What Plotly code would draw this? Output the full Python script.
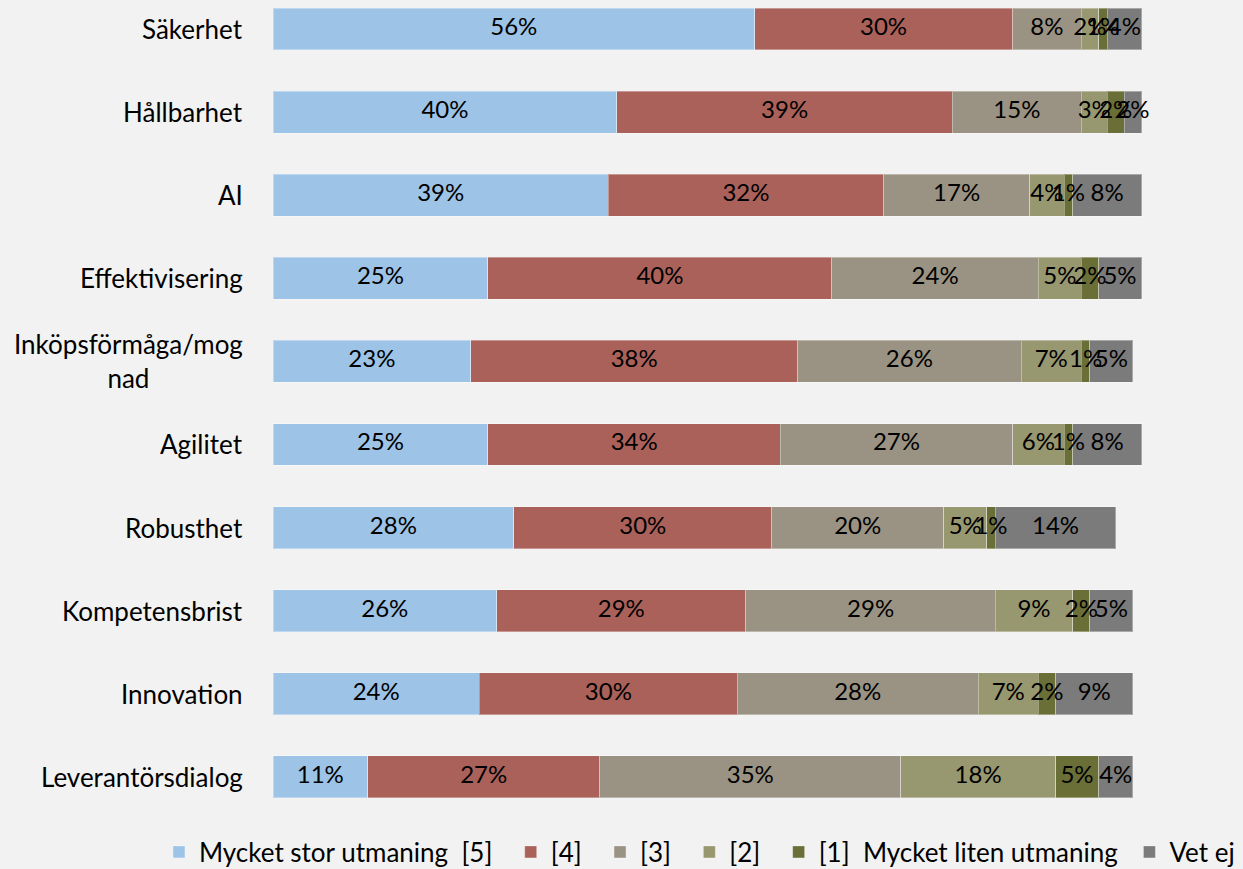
import plotly.graph_objects as go

categories = ["Säkerhet", "Hållbarhet", "AI", "Effektivisering", "Inköpsförmåga/mognad",
              "Agilitet", "Robusthet", "Kompetensbrist", "Innovation", "Leverantörsdialog"]
category_labels = ["Säkerhet", "Hållbarhet", "AI", "Effektivisering", "Inköpsförmåga/mog<br>nad",
                   "Agilitet", "Robusthet", "Kompetensbrist", "Innovation", "Leverantörsdialog"]

series_names = ["Mycket stor utmaning&nbsp; [5]&nbsp;&nbsp;", "[4]&nbsp;&nbsp;", "[3]&nbsp;&nbsp;",
                "[2]&nbsp;&nbsp;",
                "[1]&nbsp; Mycket liten utmaning&nbsp;",
                "Vet ej"]
s5 = [56, 40, 39, 25, 23, 25, 28, 26, 24, 11]
s4 = [30, 39, 32, 40, 38, 34, 30, 29, 30, 27]
s3 = [8, 15, 17, 24, 26, 27, 20, 29, 28, 35]
s2 = [2, 3, 4, 5, 7, 6, 5, 9, 7, 18]
s1 = [1, 2, 1, 2, 1, 1, 1, 2, 2, 5]
vet_ej = [4, 2, 8, 5, 5, 8, 14, 5, 9, 4]

colors = ["#9DC3E6", "#AA615A", "#9A9383", "#979770", "#6A6E37", "#7B7B7B"]

FONT = "Lato"
all_series = [s5, s4, s3, s2, s1, vet_ej]
fig = go.Figure()
for name, vals, col in zip(series_names, all_series, colors):
    fig.add_trace(go.Bar(
        y=categories, x=vals, name=name, orientation="h",
        marker=dict(color=col, line=dict(color="rgba(255,255,255,0.35)", width=1)),
        hoverinfo="skip",
    ))

# value labels drawn on top of all bars, centred in each segment
base = [0] * len(categories)
for vals in all_series:
    mids = [b + v / 2 for b, v in zip(base, vals)]
    fig.add_trace(go.Scatter(
        x=mids, y=categories, mode="text", text=[f"{v}%" for v in vals],
        textposition="middle center", textfont=dict(family=FONT, size=24, color="black"),
        showlegend=False, hoverinfo="skip", cliponaxis=False,
    ))
    base = [b + v for b, v in zip(base, vals)]

for cat, lab in zip(categories, category_labels):
    fig.add_annotation(x=-0.03, xref="paper", y=cat, yref="y", text=lab, showarrow=False,
                       xanchor="right", yanchor="middle", align="center",
                       font=dict(family=FONT, size=26, color="black"))

fig.update_layout(
    width=1243, height=869,
    barmode="stack", bargap=0.495,
    paper_bgcolor="#F2F2F2", plot_bgcolor="#F2F2F2",
    margin=dict(l=273, r=43, t=0, b=49, autoexpand=False),
    xaxis=dict(range=[0, 107.8], showgrid=False, zeroline=False, showticklabels=False, visible=False),
    yaxis=dict(categoryorder="array", categoryarray=categories, range=[9.519, -0.349],
               showgrid=False, zeroline=False, showticklabels=False),
    legend=dict(orientation="h", x=-0.123, xanchor="left", y=-0.039, yanchor="middle",
                font=dict(family=FONT, size=26, color="black"), bgcolor="rgba(0,0,0,0)",
                traceorder="normal"),
    showlegend=True,
)

fig.write_html("out.html")
